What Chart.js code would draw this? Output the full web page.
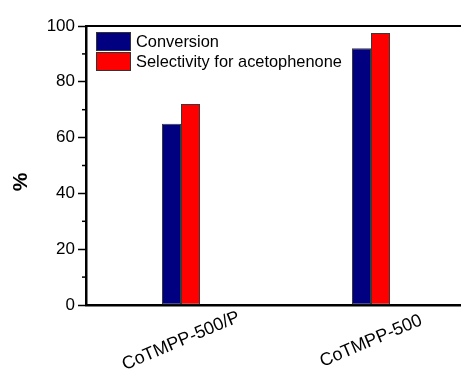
<!DOCTYPE html>
<html>
<head>
<meta charset="utf-8">
<script src="https://cdn.jsdelivr.net/npm/chart.js@4"></script>
<style>
    html, body { margin: 0; padding: 0; background: #fff; overflow: hidden; }
    #wrap { width: 470px; height: 374px; position: relative; }
</style>
</head>
<body>
<div id="wrap"><canvas id="chart"></canvas></div>
<script>
const categories = ["CoTMPP-500/P", "CoTMPP-500"];
const conversion = [65, 92];
const selectivity = [72, 97.5];
const seriesNames = ["Conversion", "Selectivity for acetophenone"];
const yTicks = [0, 20, 40, 60, 80, 100];
const yMinorTicks = [10, 30, 50, 70, 90];

const FONT = "'Liberation Sans', Arial, sans-serif";

// frame line on top, minor ticks, rotated x labels, legend and y title
const extras = {
    id: "extras",
    afterDraw(chart) {
        const ctx = chart.ctx;
        const area = chart.chartArea;
        const y = chart.scales.y;
        const x = chart.scales.x;
        ctx.save();

        ctx.strokeStyle = "#000";
        ctx.lineWidth = 2;
        ctx.beginPath();
        ctx.moveTo(area.left - 1, area.top);
        ctx.lineTo(area.right, area.top);
        ctx.stroke();

        ctx.lineWidth = 1.5;
        yMinorTicks.forEach((v) => {
            const py = y.getPixelForValue(v);
            ctx.beginPath();
            ctx.moveTo(area.left - 4, py);
            ctx.lineTo(area.left, py);
            ctx.stroke();
        });

        ctx.fillStyle = "#000";
        ctx.font = "18px " + FONT;
        ctx.textAlign = "center";
        ctx.textBaseline = "middle";
        categories.forEach((c, i) => {
            const px = x.getPixelForValue(i);
            ctx.save();
            ctx.translate(px, 341);
            ctx.rotate(-23 * Math.PI / 180);
            ctx.fillText(c, 0, 0);
            ctx.restore();
        });

        ctx.save();
        ctx.font = "bold 21px " + FONT;
        ctx.translate(21, 182);
        ctx.rotate(-Math.PI / 2);
        ctx.fillText("%", 0, 0);
        ctx.restore();

        ctx.font = "16.4px " + FONT;
        ctx.textAlign = "left";
        chart.data.datasets.forEach((ds, i) => {
            const top = 32 + i * 20;
            ctx.fillStyle = ds.backgroundColor;
            ctx.fillRect(96, top, 35, 19);
            ctx.strokeStyle = "#333";
            ctx.lineWidth = 1;
            ctx.strokeRect(96.5, top + 0.5, 34, 18);
            ctx.fillStyle = "#000";
            ctx.fillText(ds.label, 136, top + 10);
        });

        ctx.restore();
    }
};

new Chart(document.getElementById("chart"), {
    type: "bar",
    data: {
        labels: categories,
        datasets: [{
            label: seriesNames[0],
            data: conversion,
            backgroundColor: "#000080",
            borderColor: "#3a3a3a",
            borderWidth: 1,
            borderSkipped: false
        }, {
            label: seriesNames[1],
            data: selectivity,
            backgroundColor: "#ff0000",
            borderColor: "#3a3a3a",
            borderWidth: 1,
            borderSkipped: false
        }]
    },
    options: {
        responsive: true,
        maintainAspectRatio: false,
        animation: false,
        layout: {
            padding: { top: 26, right: 4, bottom: 69, left: 0 }
        },
        datasets: {
            bar: { categoryPercentage: 0.2, barPercentage: 1.0 }
        },
        scales: {
            x: {
                grid: { display: false },
                border: { display: true, color: "#000", width: 2.5 },
                ticks: { display: false },
                afterFit: (scale) => { scale.height = 0; }
            },
            y: {
                min: 0,
                max: 100,
                afterBuildTicks: (scale) => {
                    scale.ticks = yTicks.map((v) => ({ value: v }));
                },
                afterFit: (scale) => { scale.width = 86; },
                grid: {
                    drawOnChartArea: false,
                    drawTicks: true,
                    tickLength: 8,
                    tickColor: "#000",
                    tickWidth: 1.5
                },
                border: { display: true, color: "#000", width: 2.5 },
                ticks: {
                    color: "#000",
                    padding: 3,
                    font: { family: FONT, size: 17 }
                }
            }
        },
        plugins: {
            legend: { display: false },
            tooltip: { enabled: false }
        }
    },
    plugins: [extras]
});
</script>
</body>
</html>
